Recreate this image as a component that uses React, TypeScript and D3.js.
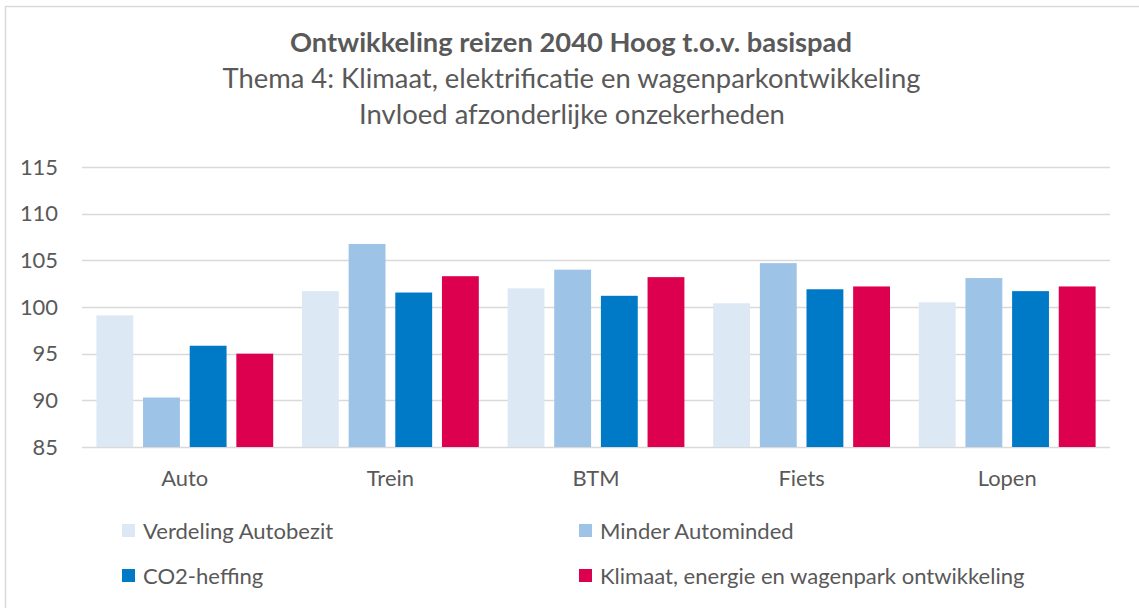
import React from "react";
import * as d3 from "d3";

const categories = ["Auto", "Trein", "BTM", "Fiets", "Lopen"];
const seriesNames = [
  "Verdeling Autobezit",
  "Minder Autominded",
  "CO2-heffing",
  "Klimaat, energie en wagenpark ontwikkeling",
];
const verdelingAutobezit = [99.1, 101.7, 102.0, 100.4, 100.5];
const minderAutominded = [90.3, 106.75, 104.0, 104.7, 103.1];
const co2Heffing = [95.85, 101.55, 101.2, 101.9, 101.7];
const klimaat = [95.0, 103.3, 103.2, 102.2, 102.2];
const yTicks = [85, 90, 95, 100, 105, 110, 115];
const seriesValues = [verdelingAutobezit, minderAutominded, co2Heffing, klimaat];
const colors = ["#DDE8F5", "#9DC3E6", "#0079C7", "#DC004E"];

const titleLines = [
  "Ontwikkeling reizen 2040 Hoog t.o.v. basispad",
  "Thema 4: Klimaat, elektrificatie en wagenparkontwikkeling",
  "Invloed afzonderlijke onzekerheden",
];

const FONT = "Lato, 'Open Sans', sans-serif";
const TEXT = "#595959";

let ctx: CanvasRenderingContext2D | null = null;
function fitSize(text: string, weight: string, target: number): number {
  if (!ctx) ctx = document.createElement("canvas").getContext("2d");
  if (!ctx) return 18;
  ctx.font = `${weight} 100px Lato`;
  const w = ctx.measureText(text).width;
  return (100 * target) / w;
}

export default function App() {
  const W = 1139;
  const H = 608;
  const x0 = d3
    .scaleBand<string>()
    .domain(categories)
    .range([82, 1110])
    .paddingInner(0.14)
    .paddingOuter(0.07);
  const x1 = d3
    .scaleBand<string>()
    .domain(seriesNames)
    .range([0, x0.bandwidth()])
    .paddingInner(0.21)
    .paddingOuter(0);
  const y = d3.scaleLinear().domain([85, 115]).range([447, 167]);

  const t1 = fitSize(titleLines[0], "bold", 562);
  const t2 = fitSize(titleLines[1], "normal", 699);
  const t3 = fitSize(titleLines[2], "normal", 426);
  const axisSize = fitSize("Auto", "normal", 47);
  const legSize = fitSize(seriesNames[0], "normal", 191);

  const legendPos = [
    { x: 122, y: 531 },
    { x: 579, y: 531 },
    { x: 122, y: 576 },
    { x: 579, y: 576 },
  ];

  return (
    <svg
      width={W}
      height={H}
      style={{ position: "absolute", left: 0, top: 0, background: "#fff" }}
      fontFamily={FONT}
    >
      <rect x={0} y={0} width={W} height={H} fill="#fff" />
      <rect x={5.5} y={6.5} width={W + 10} height={H + 10} fill="none" stroke="#D9D9D9" strokeWidth={1.5} />
      <g fill={TEXT} textAnchor="middle">
        <text x={571} y={52} fontWeight="bold" fontSize={t1}>
          {titleLines[0]}
        </text>
        <text x={571.5} y={88} fontSize={t2}>
          {titleLines[1]}
        </text>
        <text x={572} y={124} fontSize={t3}>
          {titleLines[2]}
        </text>
      </g>
      <g>
        {yTicks.map((t) => (
          <g key={t}>
            <line
              x1={82}
              x2={1110}
              y1={Math.round(y(t)) + 0.5}
              y2={Math.round(y(t)) + 0.5}
              stroke="#D9D9D9"
              strokeWidth={1.3}
            />
            <text
              x={58}
              y={y(t)}
              dy="0.35em"
              textAnchor="end"
              fill={TEXT}
              fontSize={axisSize}
            >
              {t}
            </text>
          </g>
        ))}
      </g>
      <g>
        {categories.map((c, ci) => (
          <g key={c} transform={`translate(${x0(c)},0)`}>
            {seriesNames.map((s, si) => {
              const v = seriesValues[si][ci];
              return (
                <rect
                  key={s}
                  x={x1(s)}
                  y={y(v)}
                  width={x1.bandwidth()}
                  height={y(85) - y(v)}
                  fill={colors[si]}
                />
              );
            })}
            <text
              x={x0.bandwidth() / 2}
              y={478}
              dy="0.35em"
              textAnchor="middle"
              fill={TEXT}
              fontSize={axisSize}
            >
              {c}
            </text>
          </g>
        ))}
      </g>
      <g>
        {seriesNames.map((s, si) => (
          <g key={s}>
            <rect
              x={legendPos[si].x}
              y={legendPos[si].y - 7}
              width={13}
              height={13}
              fill={colors[si]}
            />
            <text
              x={legendPos[si].x + 21}
              y={legendPos[si].y}
              dy="0.35em"
              fill={TEXT}
              fontSize={legSize}
            >
              {s}
            </text>
          </g>
        ))}
      </g>
    </svg>
  );
}
